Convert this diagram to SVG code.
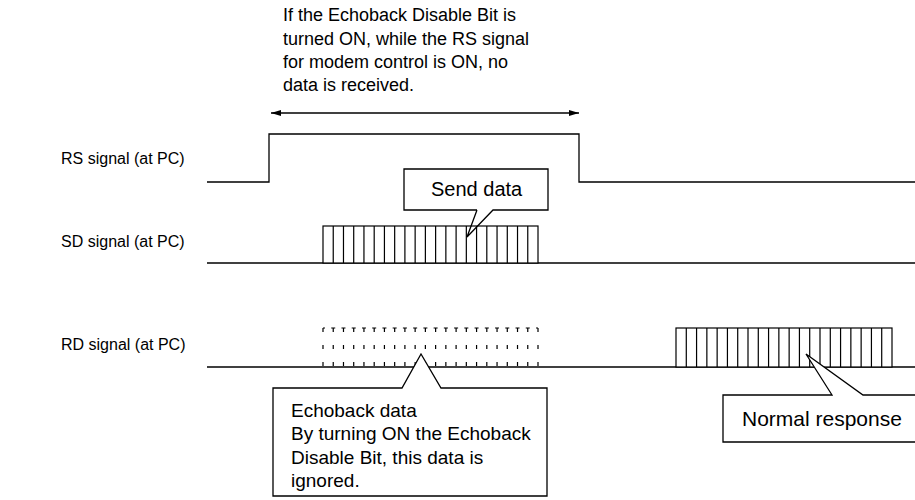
<svg xmlns="http://www.w3.org/2000/svg" width="915" height="500" viewBox="0 0 915 500">
<style>
text{font-family:"Liberation Sans",Arial,sans-serif;font-size:19px;fill:#000}
.top{font-size:18px}
.lbl{font-size:16px}
.ln{fill:none;stroke:#000;stroke-width:1.3}
.box{fill:#fff;stroke:#000;stroke-width:1.3}
.cell{stroke:#000;stroke-width:1.2}
.dash{stroke:#000;stroke-width:1.2;stroke-dasharray:4 13}
</style>
<defs>
<marker id="ah" viewBox="0 0 10 6" refX="10" refY="3" markerWidth="10" markerHeight="6" markerUnits="userSpaceOnUse" orient="auto-start-reverse">
<path d="M0,0 L10,3 L0,6 Z" fill="#000"/>
</marker>
</defs>
<rect width="915" height="500" fill="#fff"/>

<g id="note-top">
<text class="top" x="283" y="21">If the Echoback Disable Bit is</text>
<text class="top" x="283" y="45">turned ON, while the RS signal</text>
<text class="top" x="283" y="68">for modem control is ON, no</text>
<text class="top" x="283" y="91">data is received.</text>
</g>

<g id="labels">
<text class="lbl" id="label-rs" x="61" y="164">RS signal (at PC)</text>
<text class="lbl" id="label-sd" x="61" y="247">SD signal (at PC)</text>
<text class="lbl" id="label-rd" x="61" y="350">RD signal (at PC)</text>
</g>

<g id="connectors">
<line class="ln" x1="271" y1="113" x2="579" y2="113" marker-start="url(#ah)" marker-end="url(#ah)"/>
</g>

<g id="rs-signal">
<path class="ln" d="M207,182 H269 V134 H579 V182 H915"/>
</g>

<g id="sd-signal">
<line class="ln" x1="207" y1="263" x2="915" y2="263"/>
<rect x="323" y="226" width="215" height="37" fill="#fff" stroke="#000" stroke-width="1.2"/>
<path class="cell" d="M333.24,226V263M343.48,226V263M353.71,226V263M363.95,226V263M374.19,226V263M384.43,226V263M394.67,226V263M404.90,226V263M415.14,226V263M425.38,226V263M435.62,226V263M445.86,226V263M456.10,226V263M466.33,226V263M476.57,226V263M486.81,226V263M497.05,226V263M507.29,226V263M517.52,226V263M527.76,226V263"/>
</g>

<g id="rd-signal">
<line class="ln" x1="207" y1="367" x2="915" y2="367"/>
<line x1="323" y1="328" x2="538" y2="328" stroke="#000" stroke-width="1.2" stroke-dasharray="2 6.238 2 0"/>
<path class="dash" d="M323,328V367M333.24,328V367M343.48,328V367M353.71,328V367M363.95,328V367M374.19,328V367M384.43,328V367M394.67,328V367M404.90,328V367M415.14,328V367M425.38,328V367M435.62,328V367M445.86,328V367M456.10,328V367M466.33,328V367M476.57,328V367M486.81,328V367M497.05,328V367M507.29,328V367M517.52,328V367M527.76,328V367M538,328V367"/>
<rect x="676" y="328" width="216" height="39" fill="#fff" stroke="#000" stroke-width="1.2"/>
<path class="cell" d="M686.29,328V367M696.57,328V367M706.86,328V367M717.14,328V367M727.43,328V367M737.71,328V367M748,328V367M758.29,328V367M768.57,328V367M778.86,328V367M789.14,328V367M799.43,328V367M809.71,328V367M820,328V367M830.29,328V367M840.57,328V367M850.86,328V367M861.14,328V367M871.43,328V367M881.71,328V367"/>
</g>

<g id="callout-send">
<path class="ln" d="M477,210 H404 V169 H548 V210 H493 L467,237 L477,210" fill="#fff"/>
<text x="431" y="196" style="font-size:20px">Send data</text>
</g>

<g id="callout-echo">
<path class="box" d="M273,388 H402 L421,354 L441,388 H547 V496 H273 Z"/>
<text x="291" y="417">Echoback data</text>
<text x="291" y="440">By turning ON the Echoback</text>
<text x="291" y="464">Disable Bit, this data is</text>
<text x="291" y="487">ignored.</text>
</g>

<g id="callout-normal">
<path class="box" d="M920,395 H863 L806,354 L832,395 H723 V442 H920"/>
<text x="742" y="426" style="font-size:21px">Normal response</text>
</g>
</svg>
